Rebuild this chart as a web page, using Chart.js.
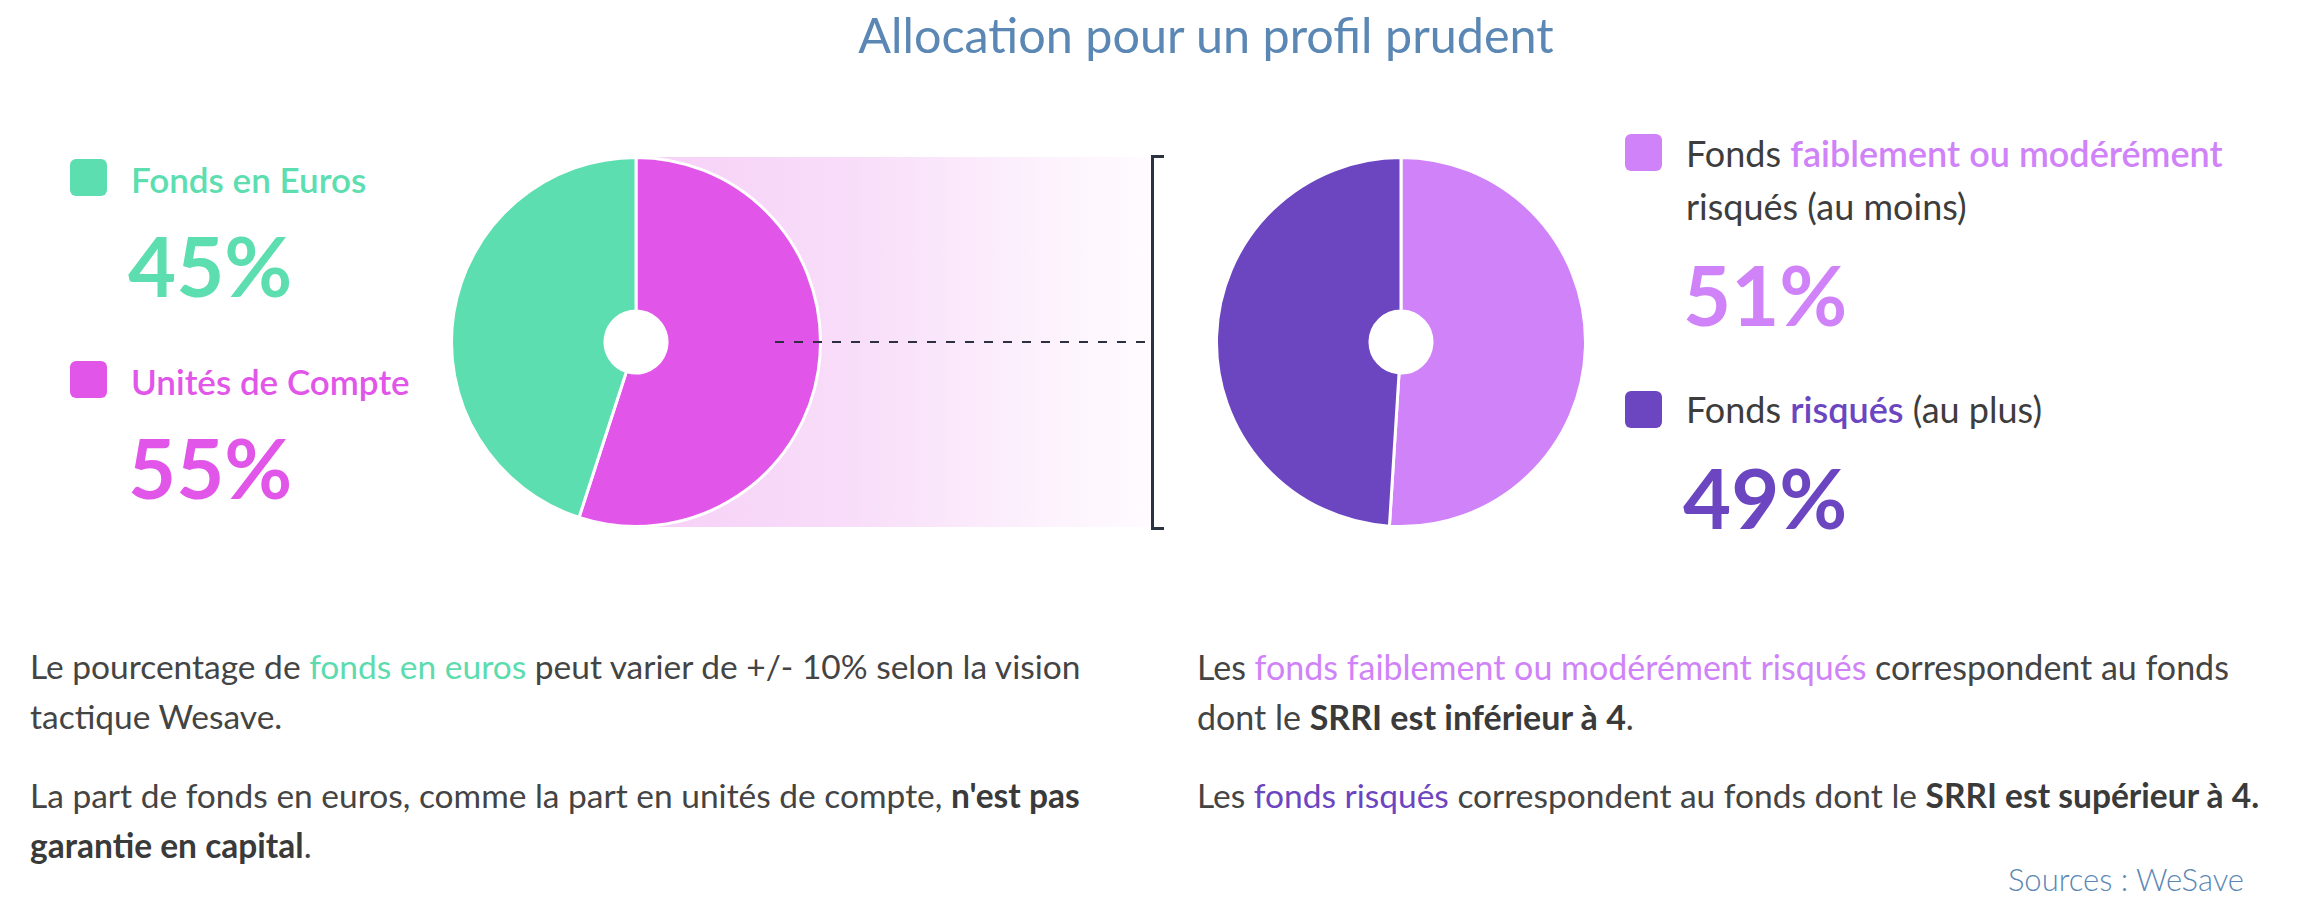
<!DOCTYPE html>
<html lang="fr">
<head>
<meta charset="utf-8">
<title>Allocation pour un profil prudent</title>
<script src="https://cdn.jsdelivr.net/npm/chart.js@4.4.1/dist/chart.umd.min.js"></script>
<style>
  html, body { margin: 0; padding: 0; background: #fff; }
  body { width: 2316px; height: 907px; position: relative; overflow: hidden; font-family: Lato, "Noto Sans", sans-serif; }
  .abs { position: absolute; white-space: nowrap; line-height: 1; }
  .title { left: 96px; width: 2220px; text-align: center; top: 10px; font-size: 48.5px; font-weight: 400; color: #5b87b4; }
  .sq { position: absolute; width: 37px; height: 37px; border-radius: 6px; }
  .lbl { font-size: 35px; font-weight: 600; }
  .lbl2 { font-size: 36px; font-weight: 400; color: #3d3d3d; }
  .lbl2 b { font-weight: 600; }
  .pct { font-size: 83px; font-weight: 700; }
  .txt { font-size: 33.5px; color: #444; font-weight: 400; }
  .txt b { font-weight: 700; color: #3a3a3a; }
  .txt span { font-weight: 400; }
  .band { position: absolute; left: 636px; top: 157px; width: 516px; height: 370px;
          background: linear-gradient(to right, #f6d0f7 0%, #f8dcf9 40%, #fdf5fd 85%, #fffbff 100%); }
  .dash { position: absolute; left: 775px; top: 341px; width: 377px; height: 2px;
          background: repeating-linear-gradient(to right, #2c3040 0, #2c3040 9px, transparent 9px, transparent 19px); }
  .bracket { position: absolute; left: 1151px; top: 155px; width: 10px; height: 369px;
             border-left: 3px solid #2c3340; border-top: 3px solid #2c3340; border-bottom: 3px solid #2c3340; }
  canvas { position: absolute; }
  .src { right: 72px; top: 864px; font-size: 31px; font-weight: 300; color: #5b87b4; }
</style>
</head>
<body>
<div class="abs title">Allocation pour un profil prudent</div>

<div class="band"></div>
<canvas id="pieLeft" width="372" height="372" style="left:450px; top:156px;"></canvas>
<canvas id="pieRight" width="372" height="372" style="left:1215px; top:156px;"></canvas>
<div class="dash"></div>
<div class="bracket"></div>

<div id="legendLeft"></div>
<div id="legendRight"></div>

<div class="abs txt" style="left:30px; top:650px;">Le pourcentage de <span style="color:#5cdcae">fonds en euros</span> peut varier de +/- 10% selon la vision</div>
<div class="abs txt" style="left:30px; top:700px;">tactique Wesave.</div>
<div class="abs txt" style="left:30px; top:779px;">La part de fonds en euros, comme la part en unités de compte, <b>n'est pas</b></div>
<div class="abs txt" style="left:30px; top:829px;"><b>garantie en capital</b>.</div>

<div class="abs txt" style="left:1197px; top:650px; font-size:34px;">Les <span style="color:#d083f8">fonds faiblement ou modérément risqués</span> correspondent au fonds</div>
<div class="abs txt" style="left:1197px; top:700px; font-size:34px;">dont le <b>SRRI est inférieur à 4</b>.</div>
<div class="abs txt" style="left:1197px; top:779px;">Les <span style="color:#6c45c1">fonds risqués</span> correspondent au fonds dont le <b>SRRI est supérieur à 4.</b></div>

<div class="abs src">Sources : WeSave</div>

<script>
// données des deux camemberts (sens horaire depuis le haut)
const leftLabels = ['Unités de Compte', 'Fonds en Euros'];
const leftValues = [55, 45];
const leftColors = ['#e156e9', '#5cdeb0'];

const rightLabels = ['Fonds faiblement ou modérément risqués', 'Fonds risqués'];
const rightValues = [51, 49];
const rightColors = ['#d083f8', '#6c45c1'];

// trou central blanc (sinon le dégradé passe au travers)
const whiteHole = {
    id: 'whiteHole',
    beforeDatasetsDraw(chart) {
        const arc = chart.getDatasetMeta(0).data[0];
        if (!arc) return;
        const ctx = chart.ctx;
        ctx.save();
        ctx.fillStyle = '#ffffff';
        ctx.beginPath();
        ctx.arc(arc.x, arc.y, arc.innerRadius + 2, 0, Math.PI * 2);
        ctx.fill();
        ctx.restore();
    }
};

function makePie(id, labels, values, colors) {
    return new Chart(document.getElementById(id), {
        type: 'doughnut',
        data: {
            labels: labels,
            datasets: [{
                data: values,
                backgroundColor: colors,
                borderColor: '#ffffff',
                borderWidth: 3,
                hoverOffset: 0
            }]
        },
        options: {
            responsive: false,
            animation: false,
            cutout: 31,
            layout: { padding: 0 },
            plugins: { legend: { display: false }, tooltip: { enabled: false } }
        },
        plugins: [whiteHole]
    });
}

makePie('pieLeft', leftLabels, leftValues, leftColors);
makePie('pieRight', rightLabels, rightValues, rightColors);

// --- légende gauche ---
const legL = document.getElementById('legendLeft');
legL.innerHTML =
    `<div class="sq" style="left:70px; top:159px; background:${leftColors[1]}"></div>
     <div class="abs lbl" style="left:131px; top:162px; color:${leftColors[1]}">Fonds en Euros</div>
     <div class="abs pct" style="left:128px; top:224px; color:${leftColors[1]}">${leftValues[1]}%</div>
     <div class="sq" style="left:70px; top:361px; background:${leftColors[0]}"></div>
     <div class="abs lbl" style="left:131px; top:364px; color:${leftColors[0]}">Unités de Compte</div>
     <div class="abs pct" style="left:128px; top:426px; color:${leftColors[0]}">${leftValues[0]}%</div>`;

// --- légende droite ---
const legR = document.getElementById('legendRight');
legR.innerHTML =
    `<div class="sq" style="left:1625px; top:134px; background:${rightColors[0]}"></div>
     <div class="abs lbl2" style="left:1686px; top:135px;">Fonds <b style="color:${rightColors[0]}">faiblement ou modérément</b></div>
     <div class="abs lbl2" style="left:1686px; top:188px;">risqués (au moins)</div>
     <div class="abs pct" style="left:1683px; top:253px; color:${rightColors[0]}">${rightValues[0]}%</div>
     <div class="sq" style="left:1625px; top:391px; background:${rightColors[1]}"></div>
     <div class="abs lbl2" style="left:1686px; top:391px;">Fonds <b style="color:${rightColors[1]}">risqués</b> (au plus)</div>
     <div class="abs pct" style="left:1683px; top:456px; color:${rightColors[1]}">${rightValues[1]}%</div>`;
</script>
</body>
</html>
